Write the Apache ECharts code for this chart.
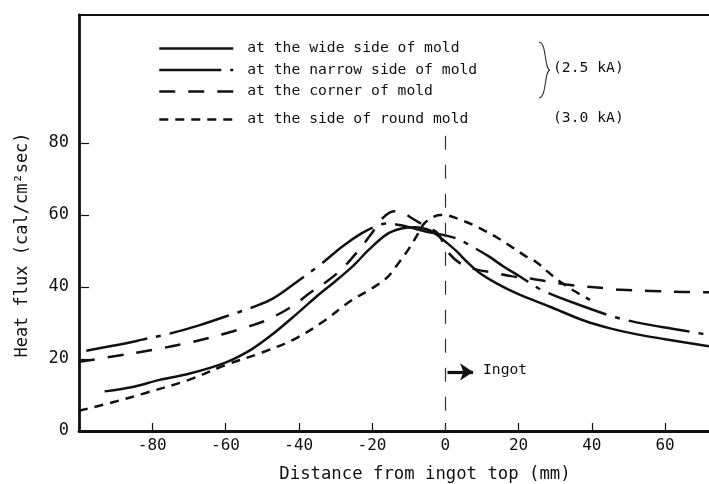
<!DOCTYPE html>
<html>
<head>
<meta charset="utf-8">
<script src="https://cdn.jsdelivr.net/npm/echarts@6/dist/echarts.min.js"></script>
<style>html,body{margin:0;padding:0;background:#fff}#c{width:709px;height:484px}</style>
</head>
<body>
<div id="c"></div>
<script>
// ---- data (x: mm, y: cal/cm2 sec) ----
const seriesNames = ['at the wide side of mold', 'at the narrow side of mold', 'at the corner of mold', 'at the side of round mold'];
const xTicks = [-80, -60, -40, -20, 0, 20, 40, 60];
const yTicks = [0, 20, 40, 60, 80];

const wideSide = [[-93, 11], [-85, 12.3], [-78, 14.2], [-70, 15.9], [-60, 19], [-53, 22.6], [-47, 27], [-40, 33], [-35, 37.5], [-30, 41.6], [-25, 46], [-21, 50.2], [-16, 54.6], [-12, 56.2], [-8, 56.6], [-5, 56], [-3, 55], [0, 52.6], [3, 50], [6, 46.9], [9.5, 43.8], [14, 41], [19.5, 38.2], [28.6, 34.5], [38, 30.6], [45, 28.5], [52, 26.9], [60, 25.5], [72, 23.5]];
const narrowSide = [[-98, 22.3], [-90, 23.8], [-83, 25.3], [-75, 27.1], [-67, 29.4], [-60, 31.8], [-53, 34.2], [-47, 36.8], [-40, 41.8], [-34, 46.3], [-28, 51.3], [-23, 54.8], [-19, 56.8], [-16, 57.6], [-12, 57.1], [-8, 56.1], [-4, 55.1], [0, 54.3], [3.2, 53.4], [7, 51.4], [12, 48.4], [16, 45.6], [20.4, 42.9], [24.5, 40.2], [27, 38.8], [35, 35.6], [45, 32], [49, 30.9], [55, 29.6], [62, 28.4], [69.5, 27.1], [72, 26.6]];
const cornerSide = [[-100, 19.2], [-90, 20.8], [-80, 22.5], [-70, 24.5], [-61, 26.8], [-55, 28.6], [-48.6, 30.9], [-42, 34.5], [-37, 38.3], [-32, 41.8], [-28, 45.2], [-23, 51], [-20, 55], [-17, 59.2], [-14, 61], [-12, 60.8], [-9, 59], [-6, 57.2], [-2, 54.8], [0.5, 50], [4, 46.6], [8.6, 44.8], [13, 44], [18, 43], [23.6, 42.3], [28, 41.5], [33, 40.7], [38, 40.1], [44, 39.6], [48, 39.2], [56, 38.9], [65, 38.6], [72, 38.5]];
const roundMold = [[-100, 5.6], [-90, 8.2], [-82, 10.5], [-70, 14.2], [-60, 18.3], [-50, 21.8], [-41, 25.6], [-33, 30.6], [-26, 36], [-20, 39.6], [-16, 42.5], [-13, 46.3], [-10, 50.5], [-8, 53.8], [-6, 57.3], [-4, 59], [-1.5, 60], [1, 59.8], [4, 58.7], [7.7, 57.2], [10.4, 55.8], [14, 53.8], [18, 51.2], [22, 48.5], [25, 46.8], [28, 44.2], [31, 41.7], [35, 39], [39.5, 36.4]];

const guideLine = [[0, 82], [0, 0]];
const ingotArrow = [[0.6, 16.4], [7.6, 16.4]];

const mono = 'DejaVu Sans Mono';
const ink = '#111';

const chart = echarts.init(document.getElementById('c'), null, {renderer: 'canvas'});

function mkSeries(name, data, dash, extra) {
  return Object.assign({
    name: name,
    type: 'line',
    data: data,
    smooth: 0.35,
    symbol: 'none',
    showSymbol: false,
    silent: true,
    lineStyle: {color: ink, width: 2.5, type: dash, cap: 'butt'},
    itemStyle: {color: ink},
    z: 3
  }, extra || {});
}

const option = {
  animation: false,
  backgroundColor: '#fff',
  grid: {left: 79, right: 0, top: 15, bottom: 53, containLabel: false, outerBoundsMode: 'none'},
  xAxis: [{
    type: 'value', min: -100, max: 72, interval: 20,
    name: 'Distance from ingot top (mm)', nameLocation: 'middle', nameGap: 35,
    nameTextStyle: {fontFamily: mono, fontSize: 17.3, color: ink, padding: [0, 0, 0, 62]},
    axisLine: {show: true, onZero: false, lineStyle: {color: ink, width: 2.8}},
    axisTick: {show: true, inside: true, length: 8, customValues: xTicks, lineStyle: {color: ink, width: 1.2}},
    axisLabel: {customValues: xTicks, fontFamily: mono, fontSize: 16, color: ink, margin: 7},
    splitLine: {show: false}
  }, {
    type: 'value', position: 'top', min: -100, max: 72,
    axisLine: {show: true, onZero: false, lineStyle: {color: ink, width: 2.2}},
    axisTick: {show: false}, axisLabel: {show: false}, splitLine: {show: false}
  }],
  yAxis: {
    type: 'value', min: 0, max: 115.5, interval: 20,
    name: 'Heat flux (cal/cm²sec)', nameLocation: 'middle', nameGap: 48,
    nameTextStyle: {fontFamily: mono, fontSize: 17, color: ink, padding: [0, 44, 0, 0]},
    axisLine: {show: true, onZero: false, lineStyle: {color: ink, width: 2.8}},
    axisTick: {show: true, inside: true, length: 10, customValues: [20, 40, 60, 80], lineStyle: {color: ink, width: 1.2}},
    axisLabel: {customValues: yTicks, fontFamily: mono, fontSize: 17, color: ink, margin: 10},
    splitLine: {show: false}
  },
  legend: [{
    data: seriesNames.slice(0, 3), orient: 'vertical', left: 153, top: 36,
    itemWidth: 74, itemHeight: 14, itemGap: 6.5, selectedMode: false,
    itemStyle: {opacity: 0}, lineStyle: {width: 2.5},
    textStyle: {fontFamily: mono, fontSize: 14.7, color: ink, padding: [0, 0, 0, 9]}
  }, {
    data: seriesNames.slice(3), orient: 'vertical', left: 153, top: 107,
    itemWidth: 74, itemHeight: 14, selectedMode: false,
    itemStyle: {opacity: 0}, lineStyle: {width: 2.5},
    textStyle: {fontFamily: mono, fontSize: 14.7, color: ink, padding: [0, 0, 0, 9]}
  }],
  series: [
    mkSeries(seriesNames[0], wideSide, 'solid', {
      markLine: {
        silent: true, symbol: ['none', 'none'], label: {show: false}, animation: false,
        lineStyle: {color: '#333', width: 1.2, type: [14, 15]},
        data: [[{coord: guideLine[0]}, {coord: guideLine[1]}]]
      }
    }),
    mkSeries(seriesNames[1], narrowSide, [62, 9, 5, 9], {
      markLine: {
        silent: true, symbol: ['none', 'arrow'], symbolSize: 13, label: {show: false}, animation: false,
        lineStyle: {color: ink, width: 3.2, type: 'solid'},
        itemStyle: {color: ink},
        data: [[{coord: ingotArrow[0]}, {coord: ingotArrow[1]}]]
      }
    }),
    mkSeries(seriesNames[2], cornerSide, [16, 13]),
    mkSeries(seriesNames[3], roundMold, [9, 7])
  ],
  graphic: [
    {type: 'bezierCurve', silent: true, z: 10,
      shape: {x1: 539, y1: 42, cpx1: 547, cpy1: 43, cpx2: 544, cpy2: 69, x2: 550, y2: 70},
      style: {fill: null, stroke: '#333', lineWidth: 1.1}},
    {type: 'bezierCurve', silent: true, z: 10,
      shape: {x1: 550, y1: 70, cpx1: 544, cpy1: 71, cpx2: 547, cpy2: 97, x2: 539, y2: 98},
      style: {fill: null, stroke: '#333', lineWidth: 1.1}},
    {type: 'text', left: 553, top: 61, silent: true,
      style: {text: '(2.5 kA)', font: '14.7px "DejaVu Sans Mono"', fill: ink}},
    {type: 'text', left: 553, top: 111, silent: true,
      style: {text: '(3.0 kA)', font: '14.7px "DejaVu Sans Mono"', fill: ink}},
    {type: 'text', left: 483, top: 363, silent: true,
      style: {text: 'Ingot', font: '14.7px "DejaVu Sans Mono"', fill: ink}}
  ]
};
chart.setOption(option);
</script>
</body>
</html>
